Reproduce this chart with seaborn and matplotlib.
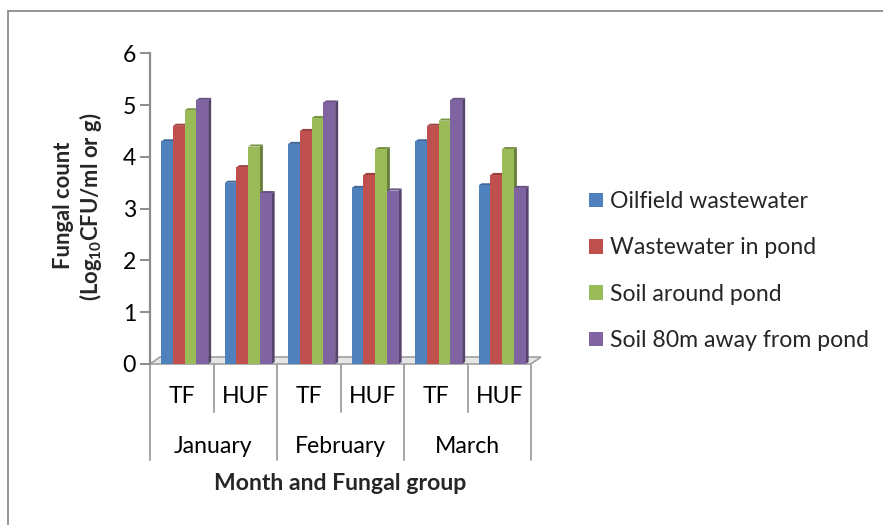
import numpy as np
import pandas as pd
import matplotlib
matplotlib.use('Agg')
import matplotlib.pyplot as plt
import seaborn as sns
from matplotlib.patches import Polygon
from matplotlib.lines import Line2D
from matplotlib.colors import to_rgb

# ---- data ----
months = ['January', 'February', 'March']
fungal_groups = ['TF', 'HUF']
series = ['Oilfield wastewater', 'Wastewater in pond', 'Soil around pond',
          'Soil 80m away from pond']
oilfield = [4.3, 3.5, 4.25, 3.4, 4.3, 3.45]
pond_water = [4.6, 3.8, 4.5, 3.65, 4.6, 3.65]
soil_around = [4.9, 4.2, 4.75, 4.15, 4.7, 4.15]
soil_80m = [5.1, 3.3, 5.05, 3.35, 5.1, 3.4]
y_ticks = [0, 1, 2, 3, 4, 5, 6]

colors = ['#4F81BD', '#C0504D', '#9BBB59', '#8064A2']

categories = [f'{m} {g}' for m in months for g in fungal_groups]
df = pd.DataFrame({
    'category': categories * 4,
    'series': np.repeat(series, len(categories)),
    'value': oilfield + pond_water + soil_around + soil_80m,
})

sns.set_theme(style='white')
plt.rcParams['font.family'] = ['Lato', 'DejaVu Sans']
plt.rcParams['mathtext.fontset'] = 'custom'
plt.rcParams['mathtext.rm'] = 'Lato'
plt.rcParams['mathtext.bf'] = 'Lato:bold'
plt.rcParams['mathtext.it'] = 'Lato:italic'
FS = 16.6
FSY = 15.8

W, H = 883, 525
fig = plt.figure(figsize=(W / 100, H / 100), dpi=100)
ax = fig.add_axes([150 / W, 1 - 364 / H, 381 / W, 310.7 / H])

sns.barplot(data=df, x='category', y='value', hue='series', order=categories,
            hue_order=series, palette=colors, saturation=1, width=0.74,
            errorbar=None, linewidth=0, edgecolor='none', ax=ax, zorder=3)

ax.set_xlim(-0.5, 5.5)
ax.set_ylim(0, 6)

def darker(c, f):
    r, g, b = to_rgb(c)
    return (r * f, g * f, b * f)

dx, dy = 0.047, 0.04
shift = 0.046
for ci, cont in enumerate(ax.containers):
    col = colors[ci]
    for p in cont.patches:
        p.set_x(p.get_x() + shift)
        x0, w, h = p.get_x(), p.get_width(), p.get_height()
        x1 = x0 + w
        side = Polygon([(x1, 0), (x1 + dx, dy), (x1 + dx, h + dy), (x1, h)],
                       closed=True, facecolor=darker(col, 0.68), edgecolor='none',
                       zorder=2.9)
        top = Polygon([(x0, h), (x0 + dx, h + dy), (x1 + dx, h + dy), (x1, h)],
                      closed=True, facecolor=darker(col, 0.8), edgecolor='none',
                      zorder=2.9)
        ax.add_patch(side)
        ax.add_patch(top)

# floor
fdx, fdy = 0.157, 0.135
floor = Polygon([(-0.5, 0), (5.5, 0), (5.5 + fdx, fdy), (-0.5 + fdx, fdy)],
                closed=True, facecolor='#E6E6E6', edgecolor='#A0A0A0',
                linewidth=1.2, zorder=1, clip_on=False)
ax.add_patch(floor)

for s in ['top', 'right', 'bottom']:
    ax.spines[s].set_visible(False)
ax.spines['left'].set_color('#8C8C8C')
ax.spines['left'].set_linewidth(1.6)
ax.set_yticks(y_ticks)
ax.set_yticklabels([str(t) for t in y_ticks])
ax.tick_params(axis='y', length=7, width=1.4, color='#8C8C8C', direction='out',
               labelsize=FS, pad=3, labelcolor='black', left=True)
ax.set_xticks([])
ax.set_xlabel('')
ax.set_ylabel('')
ax.grid(False)

# category axis table
trans = ax.get_xaxis_transform()
lc = '#A6A6A6'
for i in range(len(categories) + 1):
    xb = i - 0.5
    ybot = -0.309 if i % 2 == 0 else -0.1545
    ax.plot([xb, xb], [0, ybot], color=lc, lw=1.4, transform=trans, clip_on=False)
for i, c in enumerate(categories):
    ax.text(i, -0.106, fungal_groups[i % 2], transform=trans, ha='center',
            va='center', fontsize=FS, color='black')
for j, m in enumerate(months):
    ax.text(2 * j + 0.5, -0.267, m, transform=trans, ha='center', va='center',
            fontsize=FS, color='black')

fig.text((150 + 531) / 2 / W, 1 - 484 / H, 'Month and Fungal group',
         ha='center', va='center', fontsize=FS, fontweight='bold')
fig.text(63 / W, 1 - 205 / H, 'Fungal count', rotation=90, ha='center',
         va='center', fontsize=FSY, fontweight='bold')
fig.text(90 / W, 1 - 207 / H, r'(Log$\mathbf{_{10}}$CFU/ml or g)', rotation=90,
         ha='center', va='center', fontsize=FSY, fontweight='bold')

# legend
handles, labels = ax.get_legend_handles_labels()
leg = ax.legend(handles, labels, loc='center left',
                bbox_to_anchor=(589 / W, 1 - 271 / H),
                bbox_transform=fig.transFigure, frameon=False, fontsize=FS,
                handlelength=0.6, handleheight=0.6, handletextpad=0.3,
                labelspacing=1.1, borderpad=0, borderaxespad=0)

# outer frame (partial, as in reference)
fig.add_artist(Line2D([8 / W, 1], [1 - 11 / H, 1 - 11 / H], color='#8C8C8C', lw=1.3,
                      transform=fig.transFigure))
fig.add_artist(Line2D([8 / W, 8 / W], [0, 1 - 11 / H], color='#8C8C8C', lw=1.3,
                      transform=fig.transFigure))

fig.savefig('out.png', dpi=100, facecolor='white')
